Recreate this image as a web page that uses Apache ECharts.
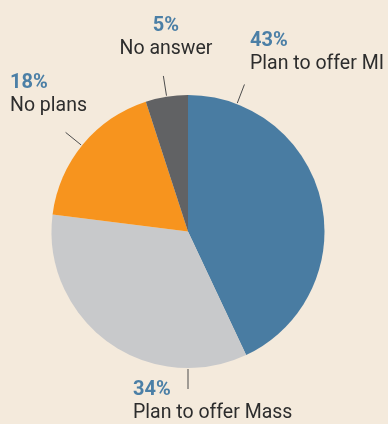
<!DOCTYPE html>
<html>
<head>
<meta charset="utf-8">
<script src="https://cdn.jsdelivr.net/npm/echarts@6/dist/echarts.min.js"></script>
<style>
  html, body { margin: 0; padding: 0; background: #f4eadc; }
  #chart { width: 388px; height: 424px; }
</style>
</head>
<body>
<div id="chart"></div>
<script>
  // data
  const names = ['Plan to offer MI', 'Plan to offer Mass', 'No plans', 'No answer'];
  const shares = [43, 34, 18, 5];
  const colors = ['#497ca2', '#c8c9cb', '#f7941e', '#616264'];

  // where each label sits and which angle its tick points at (degrees clockwise from top)
  const labelSpots = [
    { x: 250, y: 29, align: 'left', angle: 21 },
    { x: 133, y: 378, align: 'left', angle: 180 },
    { x: 10, y: 71, align: 'left', angle: 309 },
    { x: 166, y: 14, align: 'center', angle: 351 }
  ];

  const cx = 188, cy = 231.5, radius = 136.5;

  function tickPoints(angle) {
    const a = angle * Math.PI / 180;
    const p = r => [cx + r * Math.sin(a), cy - r * Math.cos(a)];
    return [p(radius + 1), p(radius + 21), p(radius + 21)];
  }

  const chart = echarts.init(document.getElementById('chart'));
  chart.setOption({
    backgroundColor: '#f4eadc',
    animation: false,
    series: [{
      type: 'pie',
      center: [cx, cy],
      radius: radius,
      startAngle: 90,
      clockwise: true,
      silent: true,
      data: names.map((n, i) => ({
        name: n,
        value: shares[i],
        itemStyle: { color: colors[i] }
      })),
      label: {
        show: true,
        overflow: 'none',
        formatter: p => '{p|' + p.value + '%}\n{n|' + p.name + '}',
        rich: {
          p: { fontFamily: 'Roboto', fontWeight: 'bold', fontSize: 20, color: '#4b7fa6', lineHeight: 23 },
          n: { fontFamily: 'Roboto', fontSize: 19.5, color: '#2d2d2d', lineHeight: 25 }
        }
      },
      labelLine: {
        show: true,
        length: 15,
        length2: 0,
        lineStyle: { color: '#4d4d4d', width: 1 }
      },
      labelLayout: params => {
        const s = labelSpots[params.dataIndex];
        return {
          x: s.x,
          y: s.y,
          align: s.align,
          verticalAlign: 'top',
          labelLinePoints: tickPoints(s.angle)
        };
      }
    }]
  });
</script>
</body>
</html>
